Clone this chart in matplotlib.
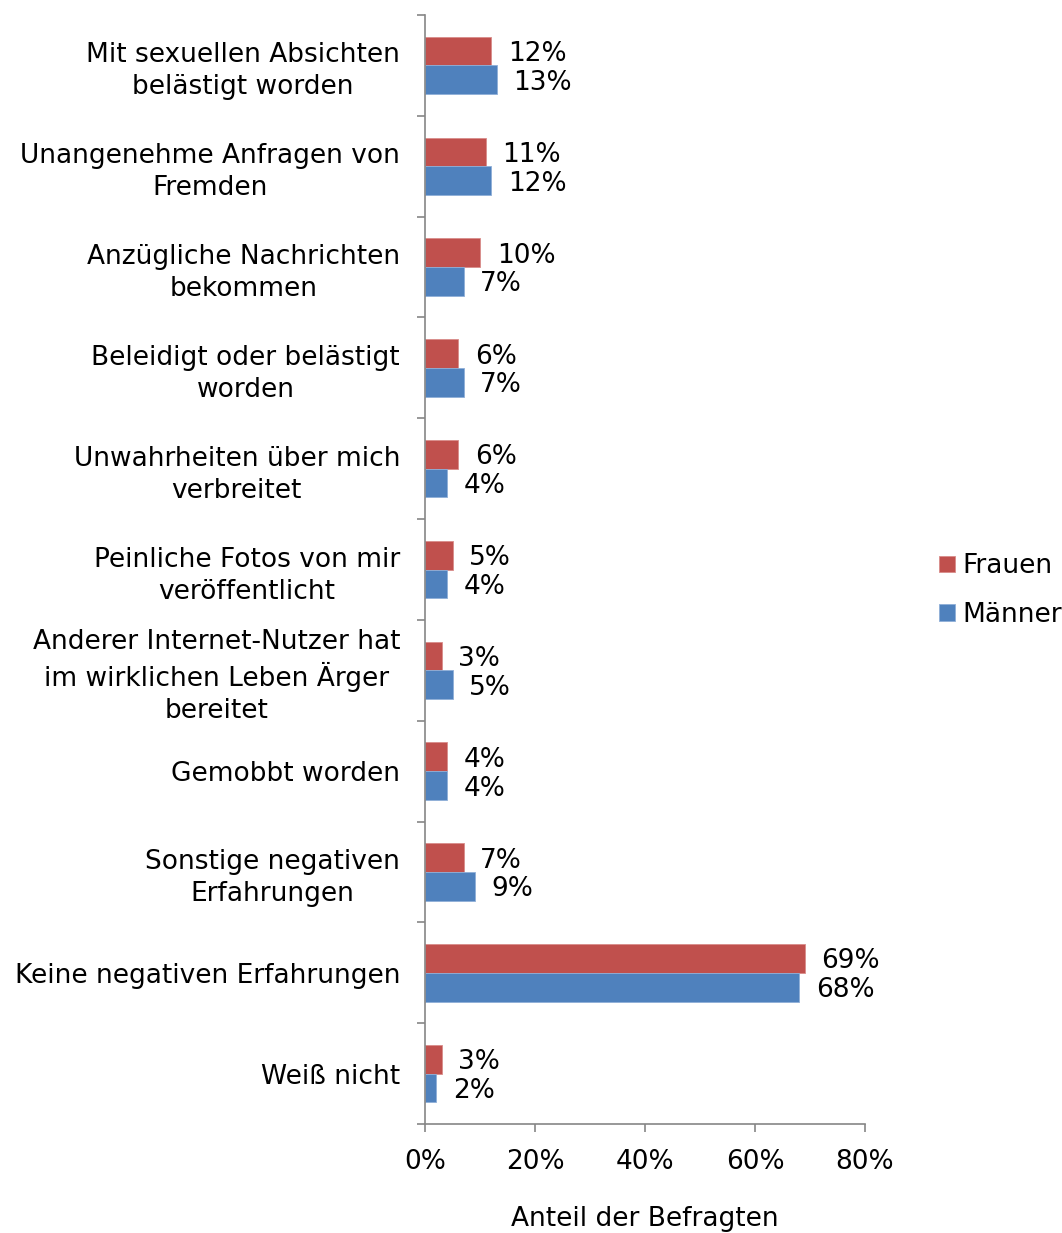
import numpy as np
import matplotlib.pyplot as plt

categories = [
    "Mit sexuellen Absichten\nbelästigt worden",
    "Unangenehme Anfragen von\nFremden",
    "Anzügliche Nachrichten\nbekommen",
    "Beleidigt oder belästigt\nworden",
    "Unwahrheiten über mich\nverbreitet",
    "Peinliche Fotos von mir\nveröffentlicht",
    "Anderer Internet-Nutzer hat\nim wirklichen Leben Ärger\nbereitet",
    "Gemobbt worden",
    "Sonstige negativen\nErfahrungen",
    "Keine negativen Erfahrungen",
    "Weiß nicht",
]
frauen = [12, 11, 10, 6, 6, 5, 3, 4, 7, 69, 3]
maenner = [13, 12, 7, 7, 4, 4, 5, 4, 9, 68, 2]
xticks = [0, 20, 40, 60, 80]

red = "#C0504D"
blue = "#4F81BD"
grey = "#868686"
fs = 19

plt.rcParams['font.family'] = ['DejaVu Sans']

fig = plt.figure(figsize=(10.62, 12.33), dpi=100)
ax = fig.add_axes([0.4002, 0.0884, 0.4143, 0.8994])

y = np.arange(len(categories))
h = 0.285
ax.barh(y - h/2, frauen, height=h, color=red, edgecolor="#D98C8A", linewidth=0.6, label="Frauen")
ax.barh(y + h/2, maenner, height=h, color=blue, edgecolor="#8FAFD8", linewidth=0.6, label="Männer")

for i in range(len(categories)):
    ax.annotate(f"{frauen[i]}%", (frauen[i], y[i] - h/2), xytext=(12, 0),
                textcoords="offset points", va="center_baseline", ha="left", fontsize=fs)
    ax.annotate(f"{maenner[i]}%", (maenner[i], y[i] + h/2), xytext=(12, 0),
                textcoords="offset points", va="center_baseline", ha="left", fontsize=fs)

ax.set_xlim(0, 80)
ax.set_ylim(len(categories) - 0.5, -0.5)
ax.set_xticks(xticks)
ax.set_xticklabels([f"{t}%" for t in xticks], fontsize=fs)
ax.set_yticks(y)
ax.set_yticklabels(categories, fontsize=fs, linespacing=1.3, ha="right", multialignment="center")
ax.set_yticks(np.arange(len(categories) + 1) - 0.5, minor=True)
ax.tick_params(axis="y", which="major", length=0, pad=18)
ax.tick_params(axis="y", which="minor", length=6, color=grey, width=1.2, direction="out")
ax.tick_params(axis="x", length=6, color=grey, width=1.2, direction="out", pad=12)

for s in ["top", "right"]:
    ax.spines[s].set_visible(False)
for s in ["left", "bottom"]:
    ax.spines[s].set_color(grey)
    ax.spines[s].set_linewidth(1.2)

ax.set_xlabel("Anteil der Befragten", fontsize=fs, labelpad=22)

leg = fig.legend(loc="center left", bbox_to_anchor=(0.884, 0.521), frameon=False,
                 fontsize=fs, handlelength=0.6, handleheight=0.6, handletextpad=0.3,
                 labelspacing=0.85, borderaxespad=0, borderpad=0)

plt.savefig("out.png", dpi=100)
